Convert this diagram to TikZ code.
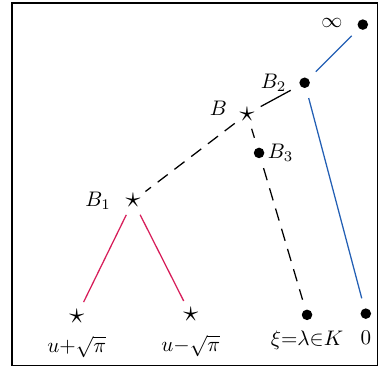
\documentclass[tikz,border=0pt]{standalone}
\usepackage{amsmath}
\usepackage{amssymb}
\usepackage{tikz}

\definecolor{treeblue}{RGB}{35,95,180}
\definecolor{treered}{RGB}{215,30,90}

\begin{document}
\begin{tikzpicture}[
    pt/.style={circle, fill, inner sep=0pt, minimum size=5pt, outer sep=3pt},
    st/.style={circle, inner sep=0pt, minimum size=4pt, outer sep=0.5pt, font=\Large},
    every label/.style={inner sep=0pt, text height=1.6ex, text depth=.3ex},
    bot/.style={text height=2.3ex, text depth=.3ex, font=\normalsize},
    edge/.style={semithick, shorten <=2pt, shorten >=2pt},
    dashedge/.style={edge, dash pattern=on 6pt off 4pt}
]

    % frame
    \useasboundingbox (0, 0) rectangle (6.37, 6.28);
    \draw[semithick] (0.2, 0.18) rectangle (6.3, 6.23);

    % upper points
    \node[pt, label={[label distance=4pt, yshift=1.5pt]left:$\infty$}] (inf) at (6.05, 5.87) {};
    \node[pt, label={[label distance=3pt]left:$B_2$}] (B2) at (5.08, 4.90) {};
    \node[st, label={[label distance=4pt, yshift=2pt]left:\normalsize$B$}] (B) at (4.12, 4.38) {$\star$};
    \node[pt, label={[label distance=-1.5pt]right:$B_3$}] (B3) at (4.32, 3.73) {};
    \node[st, label={[label distance=5pt]left:\normalsize$B_1$}] (B1) at (2.22, 2.93) {$\star$};

    % bottom row
    \node[st, label={[bot, label distance=2pt]below:$u{+}\sqrt{\pi}$}] (up) at (1.28, 1.01) {$\star$};
    \node[st, label={[bot, label distance=2pt]below:$u{-}\sqrt{\pi}$}] (um) at (3.18, 1.03) {$\star$};
    \node[pt, label={[bot, label distance=-1pt]below:$\xi{=}\lambda{\in}K$}] (xi) at (5.12, 1.03) {};
    \node[pt, label={[bot, label distance=-1pt]below:$0$}] (zero) at (6.10, 1.05) {};

    % connectors
    \draw[edge, treeblue] (inf) -- (B2);
    \draw[edge, treeblue] (B2) -- (zero);
    \draw[edge] (B2) -- (B);
    \draw[dashedge] (B) -- (B1);
    \draw[dashedge] (B) -- (B3);
    \draw[dashedge] (B3) -- (xi);
    \draw[edge, treered] (B1) -- (up);
    \draw[edge, treered] (B1) -- (um);

\end{tikzpicture}
\end{document}
